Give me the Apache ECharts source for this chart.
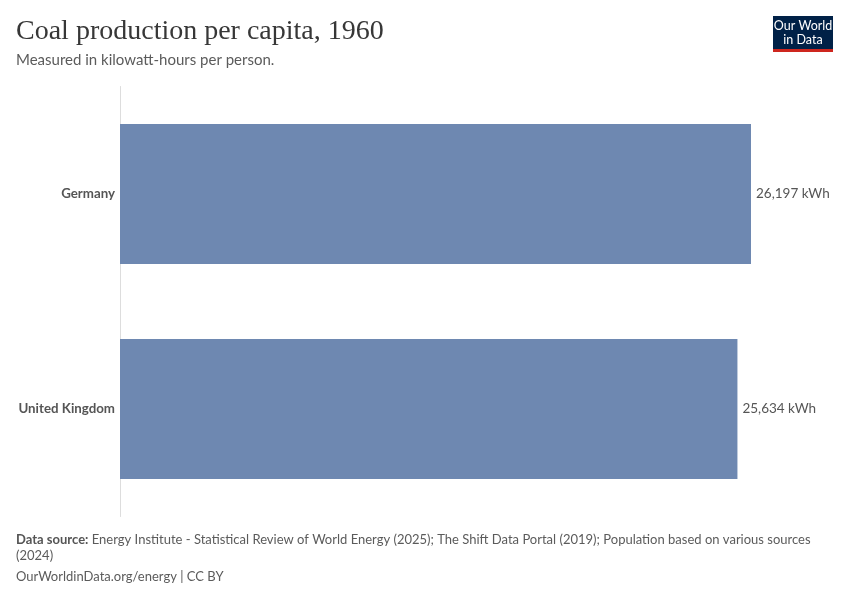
<!DOCTYPE html>
<html>
<head>
<meta charset="utf-8">
<script src="https://cdn.jsdelivr.net/npm/echarts@6/dist/echarts.min.js"></script>
<style>html,body{margin:0;padding:0;background:#fff;}#main{width:850px;height:600px;}</style>
</head>
<body>
<div id="main"></div>
<script>
const categories = ['Germany', 'United Kingdom'];
const values = [26197, 25634];
const unit = ' kWh';

const chart = echarts.init(document.getElementById('main'), null, {renderer: 'canvas'});
const fmt = v => v.toLocaleString('en-US');
chart.setOption({
  backgroundColor: '#ffffff',
  animation: false,
  title: [{
    text: 'Coal production per capita, 1960',
    left: 16, top: 18, padding: 0,
    textStyle: {fontFamily: 'Liberation Serif, DejaVu Serif, serif', fontSize: 28, fontWeight: 'normal', color: '#373737'}
  }, {
    text: 'Measured in kilowatt-hours per person.',
    left: 16, top: 53, padding: 0,
    textStyle: {fontFamily: 'Lato, sans-serif', fontSize: 15, fontWeight: 'normal', color: '#5b5b5b'}
  }],
  grid: {left: 120, top: 86.5, height: 430, width: 722.6},
  xAxis: {
    type: 'value', min: 0, max: 30000,
    show: false
  },
  yAxis: {
    type: 'category', data: categories, inverse: true,
    axisLine: {show: true, lineStyle: {color: '#dddddd', width: 1}},
    axisTick: {show: false},
    axisLabel: {fontFamily: 'Lato, sans-serif', fontSize: 13.3, fontWeight: 'bold', color: '#555555', margin: 5}
  },
  series: [{
    type: 'bar',
    data: values,
    barWidth: 140,
    itemStyle: {color: '#6e88b1'},
    label: {
      show: true, position: 'right', distance: 5,
      fontFamily: 'Lato, sans-serif', fontSize: 13.5, color: '#555555',
      formatter: p => fmt(p.value) + unit
    }
  }],
  graphic: [
    {type: 'rect', shape: {x: 773, y: 16, width: 60, height: 33}, style: {fill: '#002147'}},
    {type: 'rect', shape: {x: 773, y: 49, width: 60, height: 3}, style: {fill: '#ce261e'}},
    {type: 'text', style: {x: 803, y: 19, text: 'Our World\nin Data', align: 'center', verticalAlign: 'top', fill: '#ffffff', font: '12.5px Lato, sans-serif', lineHeight: 14}},
    {type: 'text', left: 16, top: 533, style: {rich: {b: {fontFamily: 'Lato, sans-serif', fontSize: 13, fontWeight: 'bold', fill: '#555555'}, n: {fontFamily: 'Lato, sans-serif', fontSize: 13, fill: '#5b5b5b'}}, text: '{b|Data source:} {n|Energy Institute - Statistical Review of World Energy (2025); The Shift Data Portal (2019); Population based on various sources}', fill: '#5b5b5b'}},
    {type: 'text', left: 16, top: 549, style: {text: '(2024)', font: '13px Lato, sans-serif', fill: '#5b5b5b'}},
    {type: 'text', left: 16, top: 570, style: {text: 'OurWorldinData.org/energy | CC BY', font: '13px Lato, sans-serif', fill: '#5b5b5b'}}
  ]
});
</script>
</body>
</html>
